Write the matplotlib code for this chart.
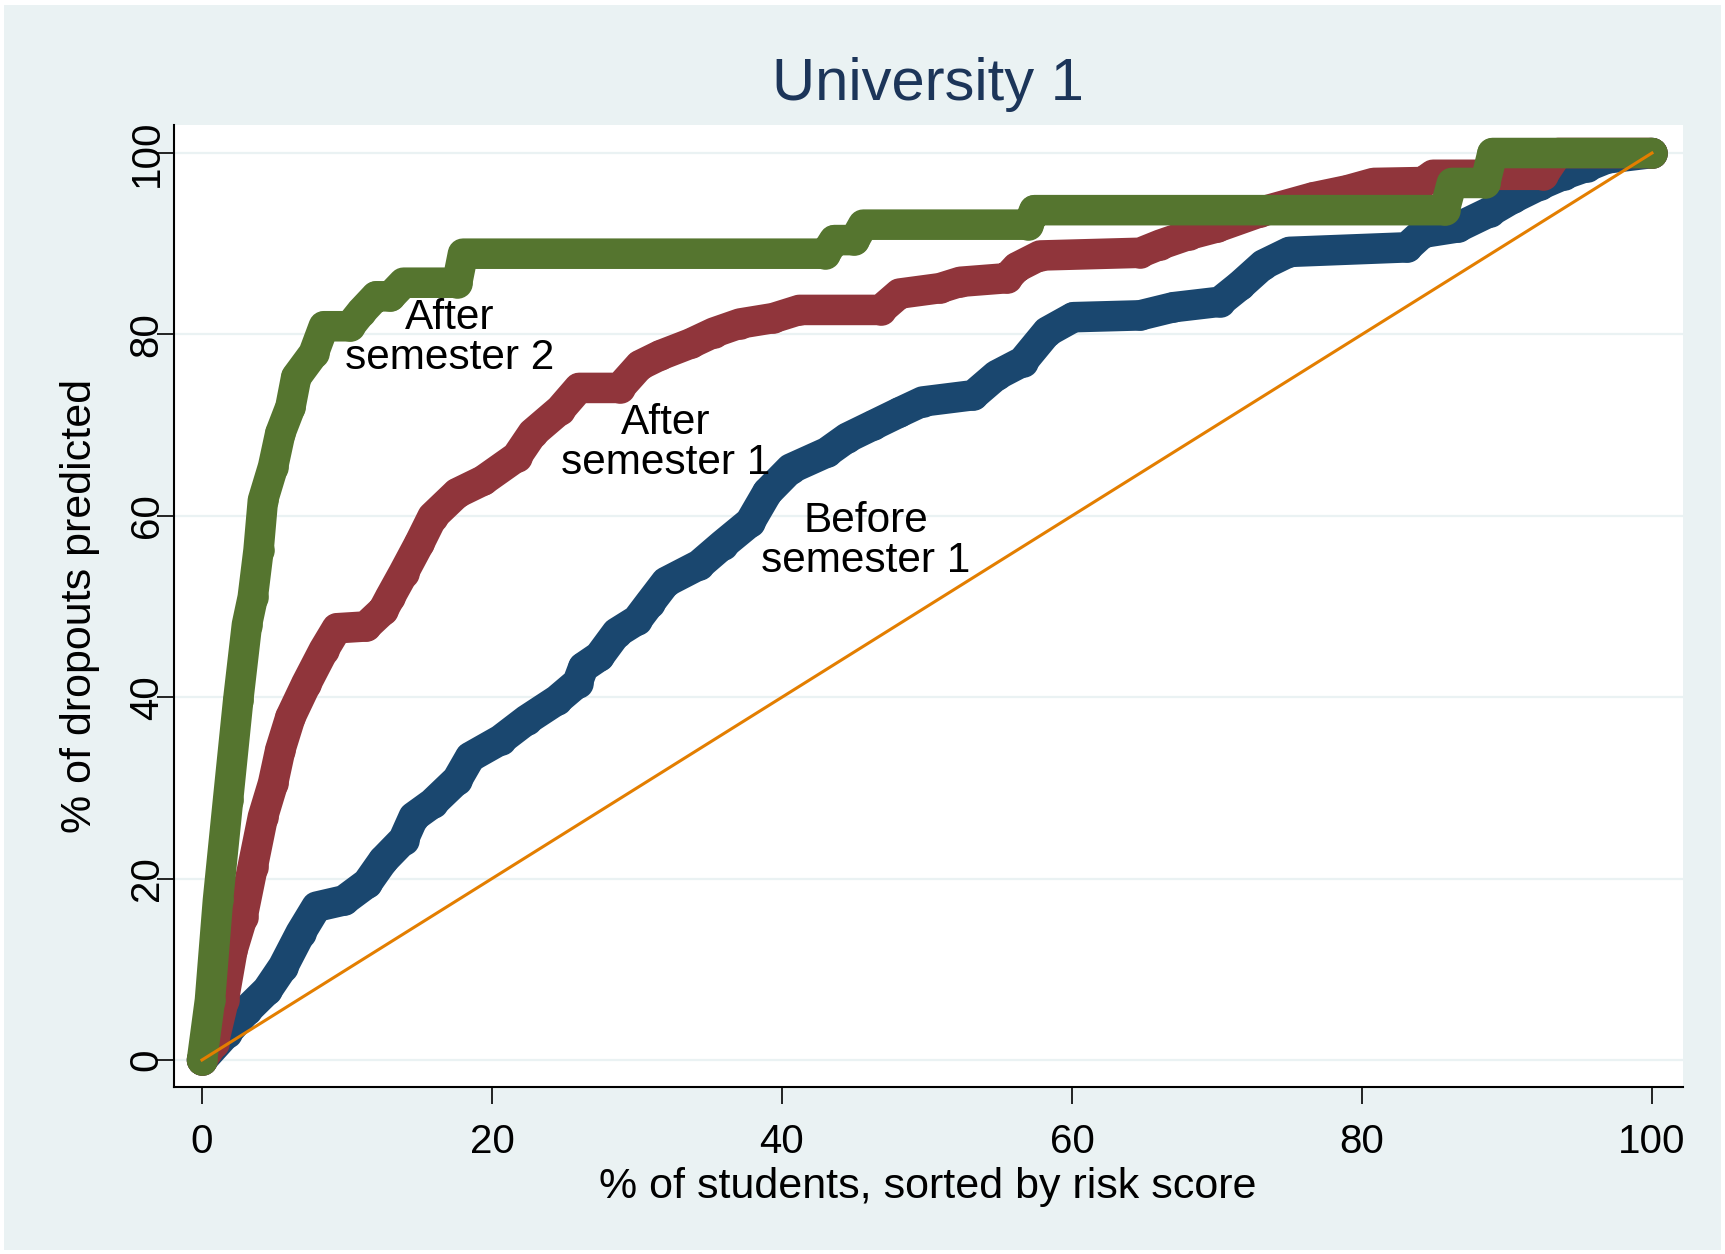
import matplotlib
matplotlib.use("Agg")
import matplotlib.pyplot as plt
from matplotlib.patches import Rectangle

plt.rcParams['font.family'] = ['Liberation Sans', 'DejaVu Sans']

# cumulative gains curves
before_x = [0, 1.7, 3.1, 4.5, 5.6, 6.8, 7.9, 9.8, 11.4, 12.5, 13.9, 14.6, 15.9, 17.6, 18.5,
            20.6, 22.4, 24.5, 25.9, 26.3, 27.4, 28.6, 30.0, 30.9, 32.0, 34.3, 35.9, 37.8,
            39.0, 40.6, 43.1, 44.5, 46.3, 48.1, 49.7, 53.2, 54.8, 56.6, 58.3, 60.1, 64.7,
            67.0, 70.2, 71.6, 73.2, 75.0, 83.1, 84.2, 86.6, 88.8, 90.4, 92.3, 93.9, 95.5,
            96.9, 100]
before_y = [0, 3.0, 5.5, 7.7, 10.3, 14.0, 16.9, 17.6, 19.5, 22.0, 24.3, 26.8, 28.3, 30.9,
            33.4, 35.3, 37.5, 39.7, 41.6, 43.3, 44.5, 47.1, 48.5, 50.4, 52.7, 54.6, 56.8,
            59.3, 62.6, 65.2, 67.0, 68.6, 70.0, 71.4, 72.6, 73.3, 75.5, 77.0, 80.3, 81.9,
            82.1, 83.0, 83.6, 85.4, 87.7, 89.1, 89.6, 91.2, 91.8, 93.5, 95.0, 96.5, 97.6,
            98.5, 99.4, 100]

sem1_x = [0, 0.8, 1.5, 2.1, 2.8, 3.5, 4.2, 4.9, 5.4, 6.1, 7.2, 8.4, 9.3, 11.3, 12.5, 13.0,
          13.9, 15.0, 15.9, 17.6, 19.4, 21.7, 22.8, 24.7, 26.0, 28.8, 30.2, 31.6, 33.7, 35.3,
          37.1, 39.4, 41.2, 46.8, 48.1, 50.9, 52.3, 55.5, 56.2, 57.8, 64.7, 66.1, 68.1,
          70.0, 73.0, 76.6, 79.0, 80.8, 84.2, 84.9, 92.5, 93.5, 100]
sem1_y = [0, 1.9, 6.6, 12.1, 15.8, 21.3, 26.8, 30.5, 34.2, 37.8, 41.5, 45.2, 47.6, 47.8,
          49.6, 51.1, 53.7, 57.0, 59.9, 62.5, 63.9, 66.5, 69.1, 71.7, 74.1, 74.1, 76.6,
          77.7, 79.0, 80.2, 81.2, 81.8, 82.7, 82.7, 84.5, 85.1, 85.8, 86.2, 87.4, 88.7,
          89.0, 89.9, 91.0, 91.8, 93.5, 95.1, 95.9, 96.7, 96.8, 97.6, 97.6, 100, 100]

sem2_x = [0, 0.55, 1.1, 1.8, 2.5, 3.1, 3.5, 3.9, 4.2, 4.9, 5.4, 6.1, 6.5, 7.7, 8.4, 10.2,
          11.0, 12.0, 13.0, 13.9, 17.6, 18.0, 43.0, 43.6, 45.0, 45.6, 57.0, 57.4, 85.7,
          86.2, 88.5, 89.0, 100]
sem2_y = [0, 6.6, 17.6, 28.7, 39.7, 48.0, 51.0, 56.2, 61.7, 65.4, 69.1, 72.0, 75.3, 77.9,
          80.9, 80.9, 82.5, 84.2, 84.2, 85.7, 85.7, 88.9, 88.9, 90.4, 90.4, 92.1, 92.1,
          93.7, 93.7, 96.7, 96.7, 100, 100]

diag = [0, 100]
ticks = [0, 20, 40, 60, 80, 100]

labels = ["Before\nsemester 1", "After\nsemester 1", "After\nsemester 2"]
label_x = [45.8, 32.0, 17.1]
label_y = [57.2, 68.0, 79.6]

W, H = 1725, 1254
bg = '#EAF2F3'

fig = plt.figure(figsize=(W / 100, H / 100), dpi=100)
fig.patch.set_facecolor('white')
fig.add_artist(Rectangle((4 / W, 4 / H), 1 - 8 / W, 1 - 9 / H, transform=fig.transFigure,
                         facecolor=bg, edgecolor='none', zorder=-10))

ax = fig.add_axes([174 / W, 1 - 1087 / H, (1683 - 174) / W, (1087 - 125) / H])
ax.set_facecolor('white')
ax.set_xlim(-1.93, 102.14)
ax.set_ylim(-2.98, 103.09)

for v in ticks:
    ax.axhline(v, color=bg, lw=1.6, zorder=0)

# thick connected lines with round markers, like the Stata original
style = dict(lw=22, marker='o', ms=22, mew=0, solid_joinstyle='round',
             solid_capstyle='round')
ax.plot(before_x, before_y, color='#1A476F', **style)
ax.plot(sem1_x, sem1_y, color='#90353B', **style)
ax.plot(sem2_x, sem2_y, color='#55752F', **style)
ax.plot(diag, diag, color='#E37E00', lw=2.2)

for t, x, y in zip(labels, label_x, label_y):
    ax.text(x, y, t, ha='center', va='center', fontsize=30.5, linespacing=1.0, color='black')

for s in ['top', 'right']:
    ax.spines[s].set_visible(False)
for s in ['left', 'bottom']:
    ax.spines[s].set_linewidth(1.5)

ax.set_xticks(ticks)
ax.set_yticks(ticks)
ax.set_xticklabels([str(t) for t in ticks])
ax.set_yticklabels([str(t) for t in ticks], rotation=90, va='center')
ax.tick_params(axis='both', length=12, width=1.2, labelsize=29)
ax.tick_params(axis='x', pad=14)
ax.tick_params(axis='y', pad=-6)

fig.text(928 / W, 1 - 85 / H, "University 1", ha='center', va='center', fontsize=43,
         color='#1C3559')
fig.text(928 / W, 1 - 1187 / H, "% of students, sorted by risk score", ha='center',
         va='center', fontsize=31)
fig.text(80 / W, 1 - 606 / H, "% of dropouts predicted", ha='center', va='center',
         rotation=90, fontsize=31)

fig.savefig("out.png", dpi=100, facecolor=fig.get_facecolor())
